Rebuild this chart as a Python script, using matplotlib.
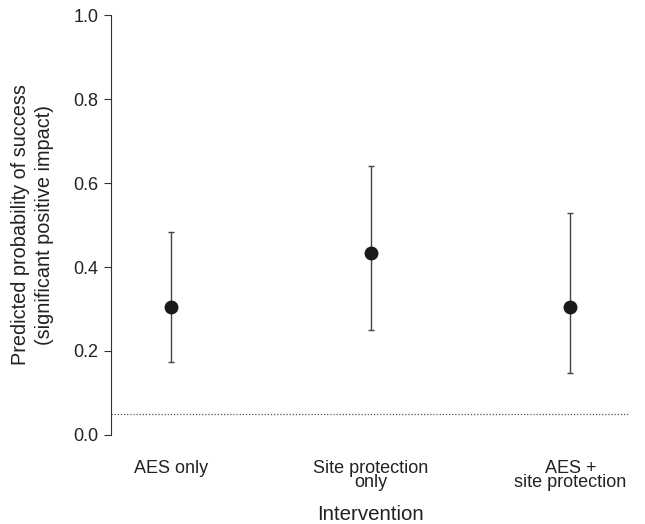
import numpy as np
import matplotlib.pyplot as plt

plt.rcParams['font.family'] = ['Liberation Sans', 'DejaVu Sans']

categories = ["AES only", "Site protection\nonly", "AES +\nsite protection"]
prob = [0.305, 0.433, 0.305]
lower = [0.174, 0.250, 0.148]
upper = [0.483, 0.641, 0.529]
baseline = 0.05

x = np.arange(1, len(categories) + 1)
prob = np.array(prob)
yerr = [prob - np.array(lower), np.array(upper) - prob]

fig = plt.figure(figsize=(6.45, 5.24), dpi=100)
ax = fig.add_axes([0.172, 0.170, 0.805, 0.801])

ax.axhline(baseline, color="#555555", linestyle=(0, (1, 1.5)), linewidth=0.9)
ax.errorbar(x, prob, yerr=yerr, fmt="o", color="#1a1a1a", ecolor="#444444",
            elinewidth=1.0, capsize=2.5, capthick=1.0, markersize=9)

ax.set_xlim(0.7, 3.3)
ax.set_ylim(0, 1.0)
ax.set_yticks([0.0, 0.2, 0.4, 0.6, 0.8, 1.0])
ax.set_yticklabels(["0.0", "0.2", "0.4", "0.6", "0.8", "1.0"])
ax.set_xticks(x)
ax.set_xticklabels(categories, linespacing=0.8, color="#222222")

for s in ["top", "right", "bottom"]:
    ax.spines[s].set_visible(False)
ax.spines["left"].set_color("#333333")
ax.tick_params(axis="y", length=5, color="#333333", labelsize=13, pad=4,
               labelcolor="#222222")
ax.tick_params(axis="x", length=0, labelsize=13, pad=18)

ax.set_ylabel("Predicted probability of success\n(significant positive impact)",
              fontsize=14.3, linespacing=1.3, labelpad=14, color="#222222")
ax.set_xlabel("Intervention", fontsize=14.8, labelpad=10, color="#222222")

fig.savefig("out.png", dpi=100)
